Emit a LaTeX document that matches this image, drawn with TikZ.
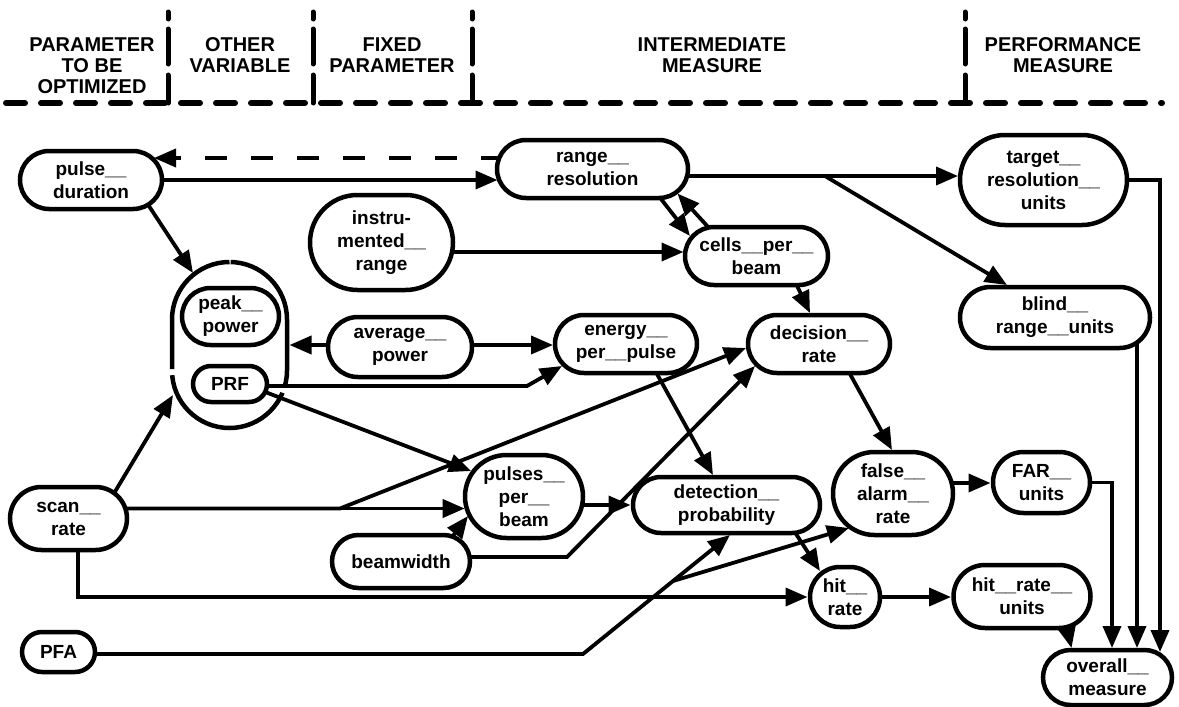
\documentclass[tikz,border=0pt]{standalone}
\usepackage{fontspec}
\setmainfont{Liberation Sans}
\usetikzlibrary{arrows.meta,calc,backgrounds}
\tikzset{
  lbl/.style={font=\fontsize{19}{23}\selectfont\bfseries, align=center},
  nd/.style={lbl, draw, line width=4.5pt, fill=white, inner sep=0pt},
  con/.style={line width=3.8pt, -{Triangle[length=22pt,width=18pt]}},
  hdr/.style={font=\fontsize{20}{21}\selectfont\bfseries, align=center},
  hline/.style={line width=6pt, line cap=round, dash pattern=on 19pt off 16pt},
  sepline/.style={line width=5pt, line cap=round},
  grpline/.style={line width=4.5pt, rounded corners=57.5pt,
     dash pattern=on 140pt off 6pt on 153pt off 6pt on 157pt off 4pt}
}
\begin{document}
\begin{tikzpicture}[x=1pt,y=-1pt]
\useasboundingbox (0,0) rectangle (1179,707);

% header
\node[hdr] (h1) at (92,66) {PARAMETER\\TO BE\\OPTIMIZED};
\node[hdr] (h2) at (240,55.5) {OTHER\\VARIABLE};
\node[hdr] (h3) at (392,55.5) {FIXED\\PARAMETER};
\node[hdr] (h4) at (712,55.5) {INTERMEDIATE\\MEASURE};
\node[hdr] (h5) at (1063,55.5) {PERFORMANCE\\MEASURE};
\draw[hline] (6,103) -- (1162,103);
\foreach \x in {168,313,472,965}{
  \draw[sepline] (\x,12) -- (\x,19);
  \draw[sepline] (\x,29) -- (\x,64);
  \draw[sepline] (\x,75) -- (\x,103);
}

% nodes
\node[nd, minimum width=142pt, minimum height=58pt, rounded corners=29pt] (pd) at (91,180) {pulse\_\_\\duration};
\node[nd, minimum width=191pt, minimum height=58pt, rounded corners=29pt] (rr) at (592.5,169) {range\_\_\\resolution};
\node[nd, minimum width=167pt, minimum height=90pt, rounded corners=45pt] (tru) at (1043.5,180) {target\_\_\\resolution\_\_\\units};
\node[nd, minimum width=143pt, minimum height=95pt, rounded corners=47.5pt] (ir) at (381.5,242.5) {instru-\\mented\_\_\\range};
\node[nd, minimum width=143pt, minimum height=58pt, rounded corners=29pt] (cpb) at (756.5,256) {cells\_\_per\_\_\\beam};
\node[nd, minimum width=190pt, minimum height=61pt, rounded corners=30.5pt] (bru) at (1055,317.5) {blind\_\_\\range\_\_units};
\node[inner sep=0pt, outer sep=0pt, minimum width=115pt, minimum height=166pt] (grp) at (229.5,345) {};
\draw[grpline] (grp.north) -- (grp.north west) -- (grp.south west) -- (grp.south east) -- (grp.north east) -- (grp.north);
\node[nd, minimum width=97pt, minimum height=57pt, rounded corners=28.5pt] (pp) at (230.5,316.5) {peak\_\_\\power};
\node[nd, minimum width=74pt, minimum height=36pt, rounded corners=18pt] (prf) at (230,384) {PRF};
\node[nd, minimum width=144pt, minimum height=60pt, rounded corners=30pt] (ap) at (400,347) {average\_\_\\power};
\node[nd, minimum width=142pt, minimum height=58pt, rounded corners=29pt] (epp) at (626,344) {energy\_\_\\per\_\_pulse};
\node[nd, minimum width=142pt, minimum height=58pt, rounded corners=29pt] (dr) at (819,344) {decision\_\_\\rate};
\node[nd, minimum width=118pt, minimum height=83pt, rounded corners=41.5pt] (ppb) at (524,496.5) {pulses\_\_\\per\_\_\\beam};
\node[nd, minimum width=187pt, minimum height=56pt, rounded corners=28pt] (dp) at (726.5,505) {detection\_\_\\probability};
\node[nd, minimum width=120pt, minimum height=83pt, rounded corners=41.5pt] (far) at (893,493.5) {false\_\_\\alarm\_\_\\rate};
\node[nd, minimum width=97pt, minimum height=61pt, rounded corners=30.5pt] (faru) at (1041.5,482.5) {FAR\_\_\\units};
\node[nd, minimum width=117pt, minimum height=63pt, rounded corners=31.5pt] (sr) at (68.5,518.5) {scan\_\_\\rate};
\node[nd, minimum width=138pt, minimum height=53pt, rounded corners=26.5pt] (bw) at (401,561.5) {beamwidth};
\node[nd, minimum width=73pt, minimum height=40pt, rounded corners=20pt] (pfa) at (58.5,652) {PFA};
\node[nd, minimum width=70pt, minimum height=60pt, rounded corners=30pt] (hr) at (845,597) {hit\_\_\\rate};
\node[nd, minimum width=137pt, minimum height=63pt, rounded corners=31.5pt] (hru) at (1022,596.5) {hit\_\_rate\_\_\\units};
\node[nd, minimum width=129pt, minimum height=55pt, rounded corners=27.5pt] (om) at (1107.5,677.5) {overall\_\_\\measure};

% connectors
\begin{pgfonlayer}{background}
\draw[con] (pd) -- ($(rr)+(-95,11)$);
\draw[con, dash pattern=on 22pt off 24pt] ($(rr)+(-90,-11)$) -- ($(pd)+(63,-22)$);
\draw[con] ($(pd)+(54,20)$) -- ($(grp.north)+(-36.5,11)$);
\draw[con] ($(rr)+(57.5,16)$) -- ($(cpb)+(-66.5,-20)$);
\draw[con] ($(cpb)+(-36.5,-16)$) -- ($(rr)+(85,24.5)$);
\draw[con] ($(rr)+(80,7)$) -- ($(tru)+(-85.5,-4)$);
\draw[con] ($(rr)+(80,7)$) -- ($(rr)+(232.5,7)$) -- ($(bru)+(-48,-32.5)$);
\draw[con] (tru) -| ($(om)+(52.5,-25.5)$);
\draw[con] ($(bru)+(82,0)$) -- ($(om)+(29.5,-29.5)$);
\draw[con] (faru) -| ($(om)+(4.5,-29.5)$);
\draw[con] ($(hru)+(40,10)$) -- ($(om)+(-36,-29.5)$);
\draw[con] ($(ir)+(0,9.5)$) -- ($(cpb)+(-73,-4)$);
\draw[con] ($(cpb)+(33.5,15)$) -- ($(dr)+(-9,-31)$);
\draw[con] ($(ap)+(0,-2)$) -- ($(grp.east)+(2.5,0)$);
\draw[con] ($(ap)+(0,-2)$) -- ($(epp)+(-73,1)$);
\draw[con] ($(prf)+(0,2)$) -- ($(prf)+(297,2)$) -- ($(epp)+(-64,22)$);
\draw[con] ($(prf)+(30,6)$) -- ($(ppb)+(-53,-25.5)$);
\draw[con] ($(sr)+(41.5,-18.5)$) -- ($(grp.south)+(-56.5,-33)$);
\draw[con] ($(sr)+(0,-10)$) -- ($(ppb)+(-59.3,12)$);
\draw[con] ($(sr)+(0,-10)$) -- ($(sr)+(271.5,-10)$) -- ($(dr)+(-73,4)$);
\draw[con] ($(sr)+(9.5,0)$) |- ($(hr)+(-37.5,0)$);
\draw[con] ($(bw)+(40,-10)$) -- ($(ppb)+(-56,19.5)$);
\draw[con] ($(bw)+(0,-4.5)$) -- ($(bw)+(166,-4.5)$) -- ($(dr)+(-64,22)$);
\draw[con] ($(ppb)+(0,8.5)$) -- ($(dp)+(-96,0)$);
\draw[con] ($(epp)+(26,21)$) -- ($(dp)+(-13.5,-30)$);
\draw[con] ($(dr)+(26,21)$) -- ($(far)+(-1,-43.5)$);
\draw[con] ($(far)+(0,-10.5)$) -- ($(faru)+(-51,0.5)$);
\draw[con] ($(dp)+(60.5,15)$) -- ($(hr)+(-25,-26)$);
\draw[con] (hr) -- ($(hru)+(-71,0.5)$);
\draw[con] ($(pfa)+(0,2)$) -- ($(pfa)+(524.5,2)$) -- ($(pfa)+(614.5,-71)$) -- ($(dp)+(3.5,30)$);
\draw[con] ($(pfa)+(614.5,-71)$) -- ($(far)+(-44,34.5)$);
\end{pgfonlayer}
\end{tikzpicture}
\end{document}
